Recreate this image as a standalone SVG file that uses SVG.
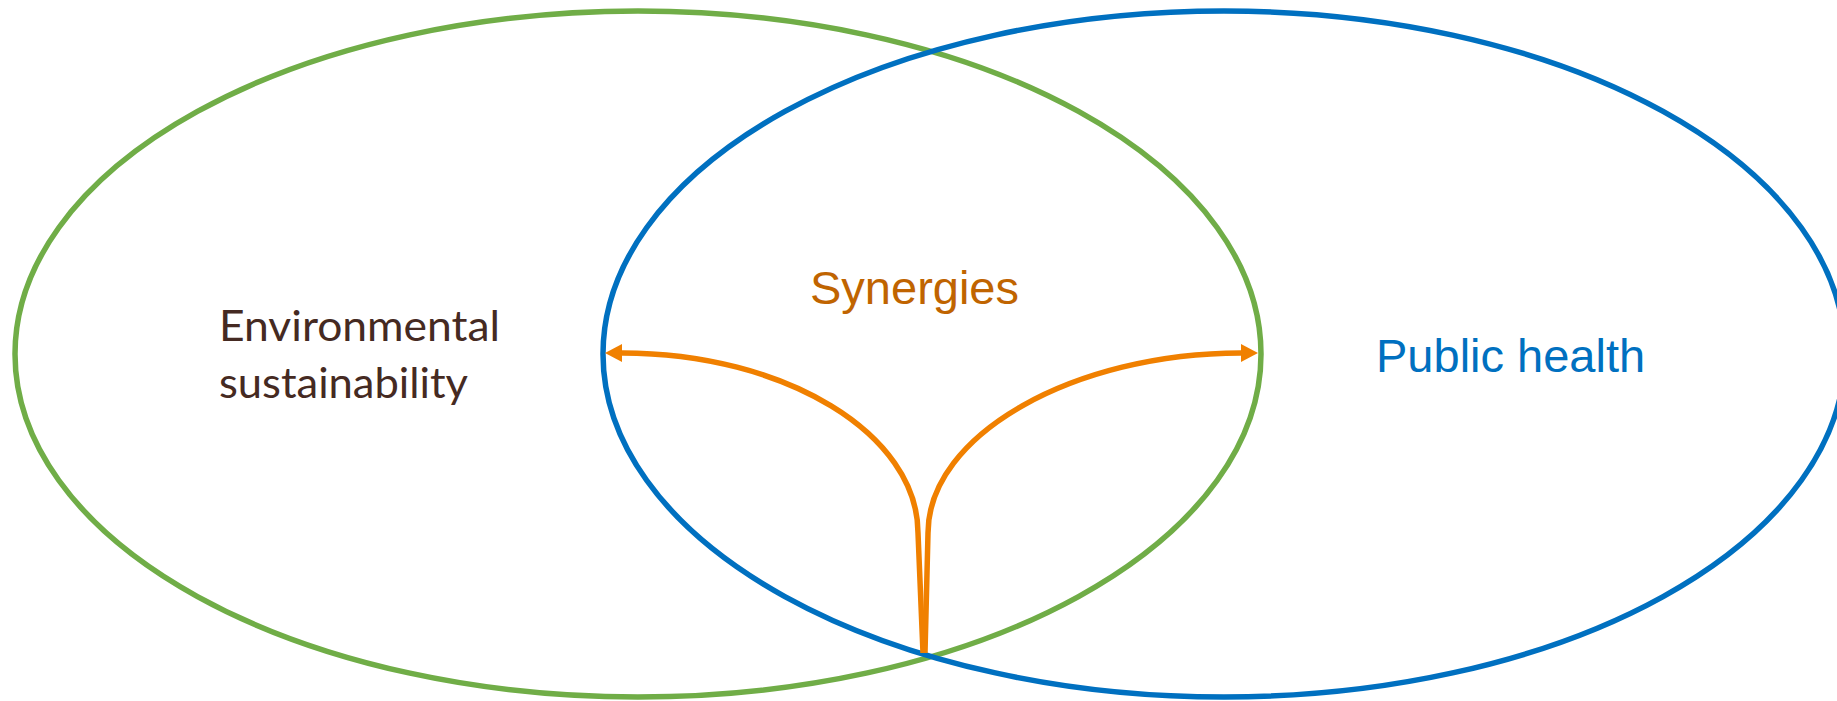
<svg xmlns="http://www.w3.org/2000/svg" width="1837" height="701" viewBox="0 0 1837 701">
  <style>
    .ring { fill: none; stroke-width: 5.5; }
    .green { stroke: #70AD47; }
    .blue { stroke: #0070C0; }
    .conn { fill: none; stroke: #F08000; stroke-width: 5.5; }
    .lbl-env { font-family: Lato, "Open Sans", "Liberation Sans", sans-serif; font-size: 42px; fill: #452A22; }
    .lbl { font-family: "Liberation Sans", Arial, sans-serif; font-size: 47px; }
  </style>
  <defs>
    <marker id="arrow" markerUnits="userSpaceOnUse" markerWidth="17" markerHeight="18" viewBox="0 0 17 18" refX="0" refY="9" orient="auto">
      <path d="M0,0 L17,9 L0,18 z" fill="#F08000"/>
    </marker>
  </defs>
  <rect width="1837" height="701" fill="#ffffff"/>
  <g id="env">
    <ellipse class="ring green" cx="638" cy="354" rx="623" ry="343"/>
    <text class="lbl-env" x="219" y="341" textLength="281" lengthAdjust="spacingAndGlyphs">Environmental</text>
    <text class="lbl-env" x="219" y="398" textLength="249" lengthAdjust="spacingAndGlyphs">sustainability</text>
  </g>
  <g id="health">
    <ellipse class="ring blue" cx="1224" cy="354" rx="621" ry="343"/>
    <text class="lbl" x="1376" y="372" fill="#0070C0">Public health</text>
  </g>
  <g id="synergies">
    <text class="lbl" x="810" y="304" fill="#C06400">Synergies</text>
  </g>
  <g id="connectors">
    <path class="conn" d="M923,653 L918,533 C918,434 785,353 622,353" marker-end="url(#arrow)"/>
    <path class="conn" d="M925,653 L928,533 C928,434 1075,353 1241,353" marker-end="url(#arrow)"/>
  </g>
</svg>
